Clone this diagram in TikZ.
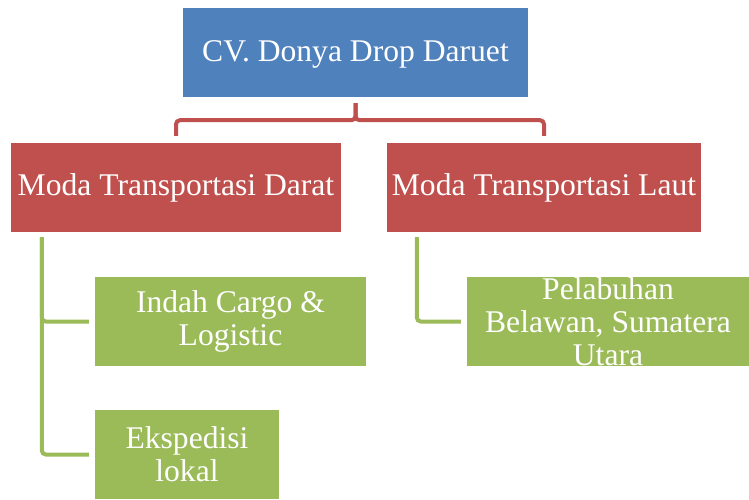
\documentclass[tikz,border=0pt]{standalone}
\usepackage{fontspec}
\setmainfont{Liberation Serif}
\usepackage{tikz}
\definecolor{boxblue}{HTML}{4F81BD}
\definecolor{boxred}{HTML}{C0504D}
\definecolor{boxgreen}{HTML}{9BBB59}

\begin{document}
\begin{tikzpicture}[x=1pt,y=-1pt,
  box/.style={minimum height=89pt,inner xsep=2pt,inner ysep=0pt,align=center,
    text=white,font=\fontsize{31.6}{33}\selectfont},
  top/.style={box,fill=boxblue,text depth=2pt},
  moda/.style={box,fill=boxred},
  leaf/.style={box,fill=boxgreen},
  redline/.style={draw=boxred,line width=4pt,rounded corners=4pt,shorten <=6pt,shorten >=7pt},
  greenline/.style={draw=boxgreen,line width=4pt,rounded corners=4pt,shorten <=5pt,shorten >=6pt}]
\useasboundingbox (0,0) rectangle (749,499);
\node[top,minimum width=345pt] (cv) at (355.5,52.5) {CV. Donya Drop Daruet};
	\node[moda,minimum width=330pt] (darat) at (176,187.5) {Moda Transportasi Darat};
	\node[moda,minimum width=314pt] (laut) at (544,187.5) {Moda Transportasi Laut};
	\node[leaf,minimum width=271pt] (indah) at (230.5,321.5) {Indah Cargo \&\\Logistic};
	\node[leaf,minimum width=184pt] (ekspedisi) at (187,454.5) {Ekspedisi\\lokal};
	\node[leaf,minimum width=282pt] (pelabuhan) at (608,321.5) {Pelabuhan\\Belawan, Sumatera\\Utara};

	\draw[redline] (cv.south) -- ++(0,23) -| (darat.north);
	\draw[redline] (cv.south) -- ++(0,23) -| (laut.north);
	\draw[greenline] ([xshift=31pt]darat.south west) |- (indah.west);
	\draw[greenline] ([xshift=31pt]darat.south west) |- (ekspedisi.west);
	\draw[greenline] ([xshift=30pt]laut.south west) |- (pelabuhan.west);
\end{tikzpicture}
\end{document}
